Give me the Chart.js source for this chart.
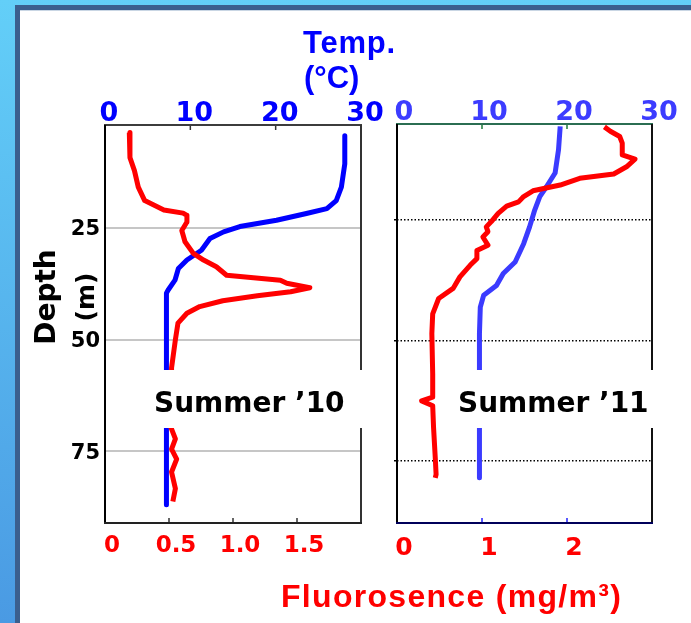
<!DOCTYPE html>
<html lang="en">
<head>
<meta charset="utf-8">
<title>Temperature and fluorescence profiles</title>
<script src="https://cdn.jsdelivr.net/npm/chart.js"></script>
<style>
  body { margin: 0; width: 691px; height: 623px; overflow: hidden; position: relative;
    background: linear-gradient(to bottom, #63cff8, #4a9ae3); }
  .frame { position: absolute; left: 15px; top: 5px; right: 0; bottom: 0; background: #fff;
    border-left: 5px solid #3b5f8e; border-top: 5px solid #3b5f8e; box-shadow: inset 0 1px 0 #c9d6e4; }
  canvas { position: absolute; top: 0; }
  .lbl { position: absolute; font-family: "Liberation Sans", Arial, sans-serif; font-weight: bold;
    white-space: nowrap; line-height: 1; }
</style>
</head>
<body>
<div class="frame"></div>
<canvas id="summer10" width="395" height="623" style="left:0"></canvas>
<canvas id="summer11" width="311" height="623" style="left:380px"></canvas>
<div class="lbl" style="left:303px; top:27px; font-size:31px; color:#0000ff; letter-spacing:0.8px">Temp.</div>
<div class="lbl" style="left:304px; top:62px; font-size:31px; color:#0000ff">(°C)</div>
<div class="lbl" style="left:281px; top:580px; font-size:32px; color:#ff0000; letter-spacing:1.3px">Fluorosence (mg/m³)</div>

<script>
// axis ticks
const tempTicks = [0, 10, 20, 30];
const depthTicks = [25, 50, 75];
const fluorTicks10 = [0, 0.5, 1.0, 1.5];
const fluorLabels10 = ['0', '0.5', '1.0', '1.5'];
const fluorTicks11 = [0, 1, 2];
const fluorLabels11 = ['0', '1', '2'];

// Summer '10 profile
const depthT10 = [4.4, 10.7, 15.9, 18.9, 20.7, 21.8, 23.3, 24.7, 25.9, 27.4, 30.0, 32.2, 34.1, 36.7, 38.9, 39.6, 56.3, 69.6, 86.9];
const temp10 = [28.1, 28.1, 27.7, 27.1, 26.0, 23.6, 20.1, 15.8, 13.9, 12.3, 11.3, 9.6, 8.6, 8.2, 7.4, 7.2, 7.2, 7.2, 7.2];
const depthF10 = [3.7, 9.3, 12.2, 15.9, 18.9, 21.0, 21.7, 22.2, 23.7, 25.6, 28.1, 30.7, 32.2, 33.7, 35.6, 36.7, 37.4, 38.4, 39.3,
  40.2, 41.3, 42.6, 44.1, 46.3, 50.0, 56.3, 62.0, 69.6, 72.2, 74.5, 76.7, 79.6, 83.3, 86.2];
const fluor10 = [0.19, 0.195, 0.23, 0.26, 0.31, 0.46, 0.61, 0.64, 0.64, 0.60, 0.625, 0.69, 0.77, 0.87, 0.95, 1.37, 1.42, 1.60, 1.45,
  1.19, 0.92, 0.74, 0.64, 0.57, 0.55, 0.52, 0.52, 0.515, 0.55, 0.52, 0.56, 0.52, 0.55, 0.53];

// Summer '11 profile
const depthT11 = [5.5, 10.4, 15.2, 18.0, 20.1, 22.9, 26.4, 29.9, 33.7, 36.1, 38.6, 40.6, 43.1, 48.6, 56.0, 68.0, 78.6];
const temp11 = [19.2, 19.0, 18.6, 17.6, 16.8, 16.2, 15.6, 14.9, 13.9, 12.5, 11.7, 10.2, 9.8, 9.7, 9.7, 9.7, 9.7];
const depthF11 = [5.6, 6.5, 7.6, 9.0, 11.4, 12.3, 13.9, 15.4, 16.3, 17.7, 18.9, 20.1, 21.2, 22.1, 23.6, 25.3, 26.4, 27.4, 28.5,
  30.2, 31.3, 33.0, 34.4, 36.8, 39.2, 41.3, 44.5, 48.6, 57.0, 61.8, 62.6, 63.6, 68.1, 74.4, 77.9, 78.6];
const fluor11 = [2.44, 2.51, 2.62, 2.65, 2.65, 2.80, 2.70, 2.55, 2.15, 1.92, 1.60, 1.49, 1.43, 1.29, 1.19, 1.11, 1.05, 1.07, 1.01,
  1.07, 0.94, 0.94, 0.86, 0.74, 0.66, 0.49, 0.42, 0.41, 0.42, 0.42, 0.29, 0.42, 0.43, 0.45, 0.46, 0.45];

const pairs = (xs, ys) => xs.map((x, i) => ({ x: x, y: ys[i] }));
const bold = (size) => ({ family: 'DejaVu Sans', weight: 'bold', size: size, lineHeight: 1 });

function profile(label, xs, ds, color, axis) {
  return {
    label: label, data: pairs(xs, ds), xAxisID: axis, yAxisID: 'y',
    showLine: true, borderColor: color, borderWidth: 5, pointRadius: 0,
    borderJoinStyle: 'round', fill: false
  };
}

function seg(ctx, x1, y1, x2, y2, color, width) {
  ctx.beginPath();
  ctx.strokeStyle = color;
  ctx.lineWidth = width;
  ctx.moveTo(x1, y1);
  ctx.lineTo(x2, y2);
  ctx.stroke();
}

// frame, inner tick marks and the season label
function panelDecor(o) {
  return {
    id: 'panelDecor',
    afterDatasetsDraw(chart) {
      const ctx = chart.ctx, a = chart.chartArea;
      const top = chart.scales.xTemp, bot = chart.scales.xFluor;
      ctx.save();
      tempTicks.slice(1, -1).forEach(v => {
        const x = top.getPixelForValue(v);
        seg(ctx, x, a.top, x, a.top + 5, o.topTick, 1.5);
      });
      o.bottomTicks.forEach(v => {
        const x = bot.getPixelForValue(v);
        seg(ctx, x, a.bottom, x, a.bottom - 5, o.bottomTick, 1.5);
      });
      seg(ctx, a.left - 1, a.top, a.right + 1, a.top, o.topColor, 2);
      seg(ctx, a.left, a.top, a.left, a.bottom, o.leftColor, 2);
      seg(ctx, a.right, a.top, a.right, a.bottom, o.rightColor, 2);
      seg(ctx, a.left - 1, a.bottom, a.right + 1, a.bottom, o.bottomColor, 2);
      ctx.restore();
    },
    afterDraw(chart) {
      const ctx = chart.ctx, a = chart.chartArea;
      ctx.save();
      ctx.fillStyle = '#fff';
      ctx.fillRect(a.left + o.boxLeft, 370, a.right - a.left - o.boxLeft + 8, 58);
      ctx.fillStyle = '#000';
      ctx.font = 'bold 28px "DejaVu Sans"';
      ctx.textBaseline = 'alphabetic';
      ctx.fillText(o.season, a.left + o.textLeft, 412);
      if (o.depthTitle) {
        ctx.translate(48, 297);
        ctx.rotate(-Math.PI / 2);
        ctx.textAlign = 'center';
        ctx.textBaseline = 'middle';
        ctx.fillText('Depth', 0, 0);
        ctx.font = 'bold 25px "DejaVu Sans"';
        ctx.fillText('(m)', 0, 39);
      }
      ctx.restore();
    }
  };
}

function makeChart(id, cfg) {
  return new Chart(document.getElementById(id), {
    type: 'scatter',
    data: { datasets: cfg.datasets },
    options: {
      responsive: false,
      animation: false,
      layout: { padding: { left: 0, right: cfg.padRight, top: 0, bottom: 0 } },
      plugins: { legend: { display: false }, tooltip: { enabled: false } },
      scales: {
        xTemp: {
          type: 'linear', position: 'top', min: 0, max: 30,
          afterBuildTicks: s => { s.ticks = tempTicks.map(v => ({ value: v })); },
          afterFit: s => { s.height = cfg.top; },
          border: { display: false },
          grid: { display: false },
          ticks: { color: cfg.tempColor, font: bold(27), padding: -10, labelOffset: cfg.tempOffset, maxRotation: 0, autoSkip: false }
        },
        xFluor: {
          type: 'linear', position: 'bottom', min: 0, max: cfg.fluorMax,
          afterBuildTicks: s => { s.ticks = cfg.fluorTicks.map(v => ({ value: v })); },
          afterFit: s => { s.height = 623 - 523; },
          border: { display: false },
          grid: { display: false },
          ticks: {
            color: '#ff0000', font: bold(cfg.fluorSize), padding: cfg.fluorPad, labelOffset: 7,
            maxRotation: 0, autoSkip: false, callback: (v, i) => cfg.fluorLabels[i]
          }
        },
        y: {
          type: 'linear', position: 'left', reverse: true, min: cfg.depthMin, max: cfg.depthMax,
          afterBuildTicks: s => { s.ticks = depthTicks.map(v => ({ value: v })); },
          afterFit: s => { s.width = cfg.left; },
          border: cfg.border,
          grid: cfg.grid,
          ticks: cfg.depthLabels
            ? { display: true, color: '#000', font: bold(21), padding: 5, labelOffset: 2, autoSkip: false }
            : { display: false }
        }
      }
    },
    plugins: [panelDecor(cfg.decor)]
  });
}

makeChart('summer10', {
  datasets: [
    profile('Fluorescence', fluor10, depthF10, '#ff0000', 'xFluor'),
    profile('Temperature', temp10, depthT10, '#0000ff', 'xTemp')
  ],
  padRight: 34, top: 125, left: 105,
  tempColor: '#0000ff', tempOffset: 4,
  fluorMax: 2, fluorTicks: fluorTicks10, fluorLabels: fluorLabels10, fluorSize: 23, fluorPad: 3.5,
  depthMin: 2, depthMax: 91, depthLabels: true,
  border: { display: false },
  grid: { color: '#c6c6c6', lineWidth: 2, drawTicks: false },
  decor: {
    topTick: '#333', bottomTick: '#333', bottomTicks: [0.5, 1.0, 1.5],
    topColor: '#3c3c3c', leftColor: '#000', rightColor: '#333', bottomColor: '#222',
    boxLeft: 41, textLeft: 49, season: 'Summer \u201910', depthTitle: true
  }
});

makeChart('summer11', {
  datasets: [
    profile('Fluorescence', fluor11, depthF11, '#ff0000', 'xFluor'),
    profile('Temperature', temp11, depthT11, '#3b3bff', 'xTemp')
  ],
  padRight: 39, top: 124, left: 17,
  tempColor: '#3c3cff', tempOffset: 7,
  fluorMax: 3, fluorTicks: fluorTicks11, fluorLabels: fluorLabels11, fluorSize: 25, fluorPad: 4.5,
  depthMin: 5, depthMax: 88, depthLabels: false,
  border: { display: false, dash: [1.5, 2] },
  grid: { color: '#000', lineWidth: 1.5, tickLength: 3, tickColor: '#000', tickBorderDash: [] },
  decor: {
    topTick: '#1f7a3a', bottomTick: '#2020ff', bottomTicks: [1, 2],
    topColor: '#2b6e52', leftColor: '#000', rightColor: '#111', bottomColor: '#00005a',
    boxLeft: 50, textLeft: 61, season: 'Summer \u201911', depthTitle: false
  }
});
</script>
</body>
</html>
